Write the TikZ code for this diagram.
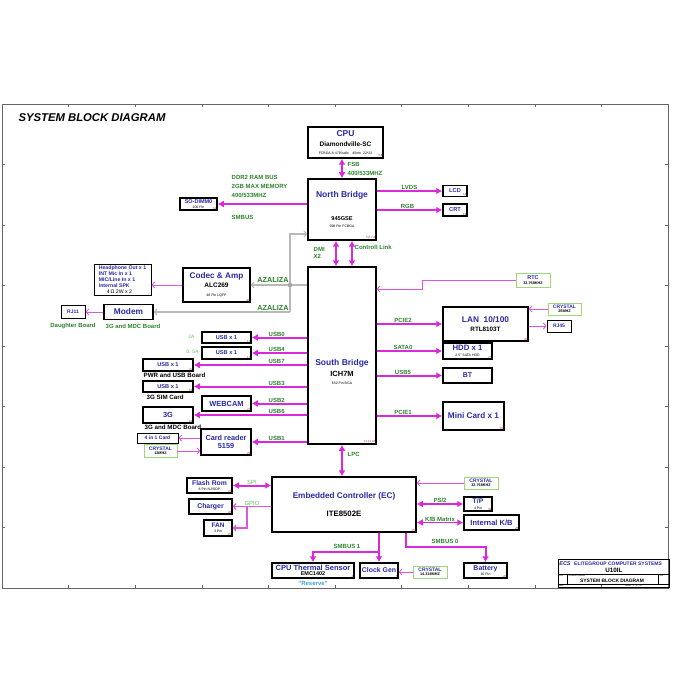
\documentclass[tikz,border=0pt]{standalone}
\usepackage{fontspec}
\setmainfont{Liberation Sans}
\usetikzlibrary{arrows.meta}
\definecolor{mag}{RGB}{220,40,220}
\definecolor{lmag}{RGB}{222,85,222}
\definecolor{tblue}{RGB}{40,40,165}
\definecolor{tgreen}{RGB}{45,130,45}
\definecolor{lgreen}{RGB}{95,195,95}
\definecolor{xgreen}{RGB}{160,215,120}
\definecolor{tred}{RGB}{205,45,45}
\definecolor{rsvblue}{RGB}{60,160,215}
\newcommand{\bt}[2][8]{{\fontsize{#1}{#1}\selectfont\color{tblue}#2}}
\newcommand{\kt}[2][6]{{\fontsize{#1}{#1}\selectfont\color{black}#2}}
\newcommand{\st}[1]{{\fontsize{3.5}{3.5}\selectfont\mdseries\color{black}#1}}
\newcommand{\xt}[1]{{\fontsize{3.8}{3.8}\selectfont\color{black}#1}}
\begin{document}
\begin{tikzpicture}[x=1pt, y=-1pt,
  box/.style={draw, line width=1.5pt, inner sep=0pt, align=center, font=\fontsize{6}{7}\selectfont\bfseries},
  xtal/.style={draw=xgreen, line width=0.9pt, inner sep=0pt, align=center, font=\fontsize{6}{7}\selectfont\bfseries},
  sz/.style 2 args={minimum width=#1pt, minimum height=#2pt},
  pg/.style={text=tred, font=\fontsize{3}{3}\selectfont, inner sep=1.2pt},
  pgn/.style={label={[pg, anchor=south east]south east:#1}},
  bus/.style={draw=mag, line width=2pt, >={Latex[length=6pt, width=7pt]}, ->},
  dbus/.style={bus, <->},
  wire/.style={draw=lmag, line width=0.9pt, >={Straight Barb[length=2.5pt, width=6pt]}, ->},
  az/.style={draw=gray!55, line width=1.1pt, >={Straight Barb[length=2.5pt, width=6pt]}},
  lbl/.style={text=tgreen, font=\fontsize{6}{9}\selectfont\bfseries, inner sep=0.5pt},
  lon/.style={lbl, above, inner sep=0.3pt},
  note/.style={font=\fontsize{6.2}{7}\selectfont\bfseries, inner sep=0.5pt},
  tiny/.style={font=\fontsize{2}{2}\selectfont, inner sep=0.3pt}]
\useasboundingbox (0,0) rectangle (700,700);

\draw[gray!80!black, line width=0.8pt] (2,104) rectangle (668,588);
\foreach \i in {1,...,9} {
  \draw[gray!80!black, line width=0.6pt] (2+66.6*\i,104) -- +(0,3);
  \draw[gray!80!black, line width=0.6pt] (2+66.6*\i,588) -- +(0,-3);
}
\foreach \j in {1,...,7} {
  \draw[gray!80!black, line width=0.6pt] (2,104+60.5*\j) -- +(3,0);
  \draw[gray!80!black, line width=0.6pt] (668,104+60.5*\j) -- +(-3,0);
}
\node[font=\fontsize{11.3}{12}\selectfont\bfseries\itshape, anchor=west] (title) at (15,118) {SYSTEM BLOCK DIAGRAM};

\node[box, sz={75}{31}, pgn={3,4}] (cpu) at (345.5,142.5) {\bt[8.5]{CPU}\\[2.5pt]\kt[6.5]{Diamondville-SC}\\[0.8pt]\st{FCBGA-8 479 balls\quad 45nm\ \ 22*22}};
\node[box, sz={68}{61}, pgn={5,6,7,8}] (nb) at (342,209.5) {\bt[8.5]{North Bridge}\\[16pt]\kt[5.6]{945GSE}\\\st{998 Pin FCBGA}};
\node[box, sz={24}{11}, pgn=13] (lcd) at (455,191) {\bt[5.7]{LCD}};
\node[box, sz={24}{12}, pgn=13] (crt) at (455,210) {\bt[5.7]{CRT}};
\node[box, sz={37}{12}, pgn=12] (dimm) at (198.5,204) {\bt[5.5]{SO-DIMM0}\\[-2pt]\st{200 Pin}};

\node[lbl, anchor=west, align=left] (ddr) at (231,186) {DDR2 RAM BUS\\2GB MAX MEMORY\\400/533MHZ};
\node[lbl, anchor=west] (smb) at (231,217) {SMBUS};
\node[lbl, anchor=west, align=left] (fsb) at (347,168.5) {FSB\\400/533MHZ};
\node[lbl, anchor=west, align=left, font=\fontsize{6}{7}\selectfont\bfseries] (dmi) at (313,252.5) {DMI\\X2};
\node[lbl, anchor=west] (ctl) at (354,247) {Controll Link};

\draw[dbus] (nb.north) -- (nb.north |- cpu.south);
\draw[bus] (nb.west |- dimm.east) -- (dimm.east);
\draw[bus] (nb.east |- lcd.west) -- node[lon, pos=0.5] {LVDS} (lcd.west);
\draw[bus] (nb.east |- crt.west) -- node[lon, pos=0.47] {RGB} (crt.west);

\node[box, sz={68}{177}, pgn={14,15,16}] (sb) at (342,355.5) {};
\node[align=center, inner sep=0pt, font=\fontsize{6}{7}\selectfont\bfseries] (sbtext) at (342,372) {\bt[8.5]{South Bridge}\\[3pt]\kt[7.5]{ICH7M}\\[0.5pt]\st{652 Pin BGA}};
\draw[dbus] ([xshift=-6pt]nb.south) -- ([xshift=-6pt]sb.north);
\draw[dbus] ([xshift=10pt]nb.south) -- ([xshift=10pt]sb.north);

\node[box, sz={67}{34}, pgn=30] (codec) at (216.5,285) {\bt[8.2]{Codec \& Amp}\\[1.5pt]\kt[6.5]{ALC269}\\[2pt]\st{48 Pin LQFP}};
\node[box, sz={57}{31}, line width=1pt, align=left, text=tblue, font=\fontsize{5.2}{6}\selectfont\bfseries] (hp) at (122.5,279.5) {Headphone Out x 1\\INT Mic In x 1\\MIC/Line In x 1\\Internal SPK\\\textcolor{black}{\mdseries\hspace*{8pt}4\,Ω 2W x 2}};
\node[box, sz={49}{15}] (modem) at (128.5,312) {\bt[8.3]{Modem}};
\node[box, sz={24}{13}, line width=1pt] (rj11) at (73,312) {\bt[5]{RJ11}};
\node[lbl] (mdc1) at (133,326) {3G and MDC Board};
\node[lbl] (dgt) at (73,326) {Daughter Board};
\draw[wire] (codec.west) -- (hp.east |- codec.west);
\draw[wire] (modem.west) -- (rj11.east);

\coordinate (g1) at (290,234);
\coordinate (gd) at (290,285);
\coordinate (g2) at (290,312);
\draw[az, ->] (g2) -- (g1) -- (nb.west |- g1);
\draw[az] (gd) -- (sb.west |- gd);
\draw[az, ->] (gd) -- (codec.east);
\draw[az, ->] (g2) -- (modem.east);
\fill[gray!70] (gd) circle (2.3pt);
\node[lbl, font=\fontsize{7.3}{8}\selectfont\bfseries] (az1) at (273,280) {AZALIZA};
\node[lbl, font=\fontsize{7.3}{8}\selectfont\bfseries] (az2) at (273,307.5) {AZALIZA};

\node[xtal, sz={34}{14}] (rtc) at (533,280) {\bt[5.5]{RTC}\\[-2.5pt]\xt{32.768KHZ}};
\coordinate (rt) at (422,289);
\draw[wire] (rtc.west) -| (rt) -- (sb.east |- rt);

\node[box, sz={85}{34}, pgn=40] (lan) at (485.5,324) {\bt[8.3]{LAN\ \ 10/100}\\[1.5pt]\kt[6.3]{RTL8103T}};
\node[xtal, sz={33}{12}] (x25) at (564.5,309) {\bt[5]{CRYSTAL}\\[-2.8pt]\xt{25MHZ}};
\node[box, sz={24}{12}, line width=1pt] (rj45) at (559,326) {\bt[5]{RJ45}};
\draw[bus] (sb.east |- lan.west) -- node[lon, pos=0.4] {PCIE2} (lan.west);
\draw[wire] (x25.west) -- (lan.east |- x25.west);
\draw[wire] (lan.east |- rj45.west) -- (rj45.west);
\node[box, sz={49}{16}, pgn=27] (hdd) at (467.5,351) {\bt[7.8]{HDD x 1}\\[-1.5pt]\st{2.5" SATA HDD}};
\draw[bus] (sb.east |- hdd.west) -- node[lon, pos=0.4] {SATA0} (hdd.west);
\node[box, sz={49}{15}] (bt) at (467.5,375.5) {\bt[7]{BT}};
\draw[bus] (sb.east |- bt.west) -- node[lon, pos=0.4] {USB5} (bt.west);
\node[box, sz={61}{28}, pgn=18] (mini) at (473.5,416) {\bt[8.2]{Mini Card x 1}};
\draw[bus] (sb.east |- mini.west) -- node[lon, pos=0.4] {PCIE1} (mini.west);

\node[box, sz={49}{11}, pgn=17] (usb0) at (226.5,337.5) {\bt[5.6]{USB x 1}};
\node[box, sz={49}{12}, pgn=17] (usb4) at (226.5,353) {\bt[5.6]{USB x 1}};
\node[box, sz={50}{12}, pgn=27] (usb7) at (168,365) {\bt[5.6]{USB x 1}};
\node[box, sz={50}{11}, pgn=18] (usb3) at (168,386.5) {\bt[5.6]{USB x 1}};
\node[box, sz={49}{15}, pgn=27] (cam) at (226.5,403.5) {\bt[7.4]{WEBCAM}};
\node[box, sz={50}{16}, pgn=18] (g3) at (168,415) {\bt[7.4]{3G}};
\node[box, sz={50}{26}, pgn=28] (card) at (226,442) {\bt[7.3]{Card reader}\\[1pt]\bt[7.3]{5159}};
\draw[bus] (sb.west |- usb0.east) -- node[lon, pos=0.55] {USB0} (usb0.east);
\draw[bus] (sb.west |- usb4.east) -- node[lon, pos=0.55] {USB4} (usb4.east);
\draw[bus] (sb.west |- usb7.east) -- node[lon, pos=0.27] {USB7} (usb7.east);
\draw[bus] (sb.west |- usb3.east) -- node[lon, pos=0.27] {USB3} (usb3.east);
\draw[bus] (sb.west |- cam.east) -- node[lon, pos=0.55] {USB2} (cam.east);
\draw[bus] (sb.west |- g3.east) -- node[lon, pos=0.27] {USB6} (g3.east);
\draw[bus] (sb.west |- card.east) -- node[lon, pos=0.55] {USB1} (card.east);
\node[lbl, text=lgreen, font=\fontsize{5}{5}\selectfont] (a2) at (191.5,336.5) {2A};
\node[lbl, text=lgreen, font=\fontsize{5}{5}\selectfont] (a05) at (192.5,352) {0. 5A};
\node[note, anchor=west] (pwr) at (143,375) {PWR and USB Board};
\node[note, anchor=west] (sim) at (146,397) {3G SIM Card};
\node[note, anchor=west] (mdc2) at (144,427) {3G and MDC Board};
\node[box, sz={41}{10}, line width=1pt] (c41) at (157.5,438) {\bt[5]{4 in 1 Card}};
\node[xtal, sz={33}{13}] (x12) at (160.5,451) {\bt[5]{CRYSTAL}\\[-2.8pt]\xt{12MHZ}};
\draw[wire] (card.west |- c41.east) -- (c41.east);
\draw[wire] (x12.east) -- (card.west |- x12.east);

\node[box, sz={144}{55}, pgn=25] (ec) at (344,504.5) {\bt[8.2]{Embedded Controller (EC)}\\[9pt]\kt[7.8]{ITE8502E}};
\draw[dbus] (sb.south) -- (sb.south |- ec.north);
\node[lbl, anchor=west] (lpc) at (347,454) {LPC};

\node[box, sz={45}{15}, pgn=22] (rom) at (209.5,485.5) {\bt[6.8]{Flash Rom}\\[-1.5pt]\st{8 Pin NJ/SOP}};
\draw[dbus] (rom.east) -- node[lon, text=lgreen, font=\fontsize{6}{6}\selectfont] {SPI} (ec.west |- rom.east);
\node[box, sz={43}{15}, pgn=26] (chg) at (210.5,506.5) {\bt[6.9]{Charger}};
\draw[wire, line width=1.2pt] (ec.west |- chg.east) -- node[lon, text=lgreen, font=\fontsize{6}{6}\selectfont] {GPIO} (chg.east);
\node[box, sz={28}{16}, pgn=22] (fan) at (218,528) {\bt[6.5]{FAN}\\[-1.5pt]\st{3 Pin}};
\coordinate (gp) at (247,506.5);
\draw[wire, line width=1.2pt] (gp) |- (fan.east);

\node[xtal, sz={34}{12}] (x32) at (481,483) {\bt[5]{CRYSTAL}\\[-2.8pt]\xt{32.768KHZ}};
\draw[wire] (x32.west) -- (ec.east |- x32.west);
\node[box, sz={28}{14}, pgn=38] (tp) at (478,504) {\bt[6.8]{T/P}\\[-1.5pt]\st{4 Pin}};
\draw[dbus, line width=1.5pt] (ec.east |- tp.west) -- node[lon] {PS/2} (tp.west);
\node[box, sz={55}{15}, pgn=28] (kb) at (491.5,522.5) {\bt[7.5]{Internal K/B}};
\draw[dbus, line width=1.5pt] (ec.east |- kb.west) -- node[lon] {K/B Matrix} (kb.west);

\node[box, sz={82}{15}, pgn=4] (ths) at (313,570.5) {\bt[7.5]{CPU Thermal Sensor}\\[-2pt]\kt[5.5]{EMC1402}};
\node[text=rsvblue, font=\fontsize{6}{6}\selectfont\bfseries, inner sep=0.5pt] (rsv) at (313,583) {"Reserve"};
\node[box, sz={38}{15}, pgn=7] (clk) at (379,570.5) {\bt[6.9]{Clock Gen}};
\node[xtal, sz={34}{12}] (x14) at (430,572) {\bt[5]{CRYSTAL}\\[-2.8pt]\xt{14.318MHZ}};
\draw[wire] (x14.west) -- (clk.east |- x14.west);
\node[box, sz={43}{15}, pgn=25] (bat) at (485.5,570.5) {\bt[7]{Battery}\\[-1.5pt]\st{10 Pin}};
\coordinate (s1) at (379,552);
\draw[bus] (ec.south -| s1) -- (clk.north);
\draw[bus] (s1) -| (ths.north);
\node[lbl] (sm1) at (347,546) {SMBUS 1};
\coordinate (s0) at (406,547);
\draw[bus] (ec.south -| s0) -- (s0) -| (bat.north);
\node[lbl] (sm0) at (445,541.5) {SMBUS 0};

\draw[line width=0.6pt] (558,559) rectangle (669,587);
\draw[line width=0.4pt] (558,574) -- (669,574);
\draw[line width=0.3pt] (558,584) -- (669,584);
\draw[line width=0.3pt] (567,574) -- (567,584);
\draw[line width=0.3pt] (658,574) -- (658,584);
\node[text=tblue, font=\fontsize{5.5}{5}\selectfont\bfseries\itshape, inner sep=0pt] (ecs) at (565,563.5) {ECS};
\node[text=tblue, font=\fontsize{5}{5}\selectfont\bfseries, anchor=west, inner sep=0pt] (elite) at (574,564) {ELITEGROUP COMPUTER SYSTEMS};
\node[font=\fontsize{6.3}{6}\selectfont\bfseries, inner sep=0pt] (model) at (614,570) {U10IL};
\node[font=\fontsize{4.9}{5}\selectfont\bfseries, inner sep=0pt] (sbd) at (612,580.5) {SYSTEM BLOCK DIAGRAM};
\node[tiny, anchor=north west] (size) at (558.5,574.5) {Size};
\node[tiny, anchor=north west] (docn) at (568,574.5) {Document Number};
\node[tiny, anchor=north west] (rev) at (659,574.5) {Rev};
\node[tiny, anchor=north west] (date) at (558.5,584.3) {Date:};
\node[tiny, anchor=north west] (sheet) at (625,584.3) {Sheet\quad 1\quad of\quad 41};
\end{tikzpicture}
\end{document}
